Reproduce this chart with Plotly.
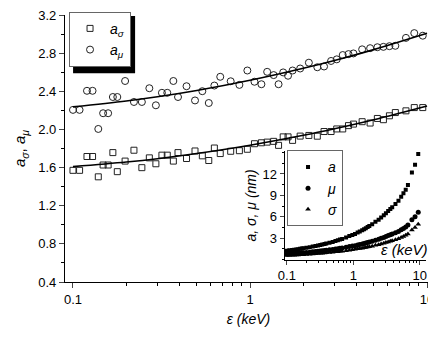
import plotly.graph_objects as go

# photon energy grid (keV), shared by both panels
eps = [0.100, 0.109, 0.120, 0.129, 0.139, 0.148, 0.158, 0.168, 0.178, 0.197,
       0.221, 0.245, 0.270, 0.294, 0.318, 0.341, 0.369, 0.392, 0.438, 0.489,
       0.538, 0.585, 0.629, 0.679, 0.778, 0.871, 0.966, 1.06, 1.16, 1.25,
       1.36, 1.45, 1.54, 1.64, 1.74, 1.92, 2.15, 2.40, 2.62, 2.87,
       3.09, 3.34, 3.60, 3.84, 4.30, 4.77, 5.24, 5.67, 6.13, 6.62,
       7.60, 8.47, 9.46]

a_sigma = [1.571, 1.571, 1.716, 1.716, 1.503, 1.627, 1.627, 1.757, 1.557, 1.668,
           1.782, 1.599, 1.702, 1.640, 1.730, 1.730, 1.668, 1.757, 1.695, 1.774,
           1.723, 1.674, 1.805, 1.747, 1.771, 1.777, 1.792, 1.850, 1.860, 1.867,
           1.875, 1.833, 1.922, 1.922, 1.885, 1.930, 1.937, 1.929, 1.978, 1.978,
           2.005, 2.005, 2.040, 2.056, 2.081, 2.067, 2.115, 2.102, 2.143, 2.177,
           2.195, 2.229, 2.229]

a_mu = [2.205, 2.205, 2.405, 2.405, 2.005, 2.170, 2.170, 2.340, 2.340, 2.508,
        2.288, 2.288, 2.432, 2.253, 2.384, 2.384, 2.508, 2.340, 2.453, 2.304,
        2.401, 2.277, 2.460, 2.552, 2.505, 2.467, 2.618, 2.500, 2.474, 2.604,
        2.570, 2.474, 2.598, 2.563, 2.618, 2.639, 2.700, 2.652, 2.660, 2.718,
        2.735, 2.780, 2.790, 2.797, 2.840, 2.852, 2.862, 2.866, 2.873, 2.877,
        2.960, 3.010, 2.983]

# fitted curves
fit_eps = [0.1, 0.2, 0.3, 0.5, 1, 2, 3, 5, 10]
fit_sigma = [1.610, 1.658, 1.693, 1.747, 1.834, 1.938, 2.007, 2.102, 2.246]
fit_mu = [2.236, 2.298, 2.342, 2.408, 2.515, 2.641, 2.723, 2.837, 3.008]

# inset: a, mu, sigma in nm
a_nm = [1.25, 1.29, 1.34, 1.38, 1.42, 1.46, 1.50, 1.54, 1.58, 1.66,
        1.74, 1.82, 1.90, 1.97, 2.04, 2.10, 2.18, 2.24, 2.36, 2.48,
        2.60, 2.70, 2.80, 2.90, 3.10, 3.30, 3.45, 3.60, 3.80, 3.95,
        4.10, 4.25, 4.40, 4.55, 4.70, 4.95, 5.30, 5.60, 5.90, 6.20,
        6.50, 6.80, 7.10, 7.35, 7.80, 8.25, 8.80, 9.30, 9.80, 10.45,
        12.2, 13.3, 14.8]
mu_nm = [0.78, 0.80, 0.83, 0.85, 0.87, 0.89, 0.92, 0.94, 0.96, 1.00,
         1.04, 1.09, 1.13, 1.16, 1.20, 1.23, 1.27, 1.30, 1.36, 1.42,
         1.48, 1.53, 1.58, 1.63, 1.72, 1.82, 1.89, 1.95, 2.05, 2.12,
         2.18, 2.25, 2.32, 2.39, 2.45, 2.56, 2.72, 2.85, 2.98, 3.10,
         3.23, 3.36, 3.48, 3.58, 3.76, 3.94, 4.17, 4.37, 4.57, 4.84,
         5.58, 6.02, 6.63]
sigma_nm = [0.56, 0.58, 0.60, 0.61, 0.63, 0.64, 0.66, 0.68, 0.69, 0.72,
            0.75, 0.79, 0.82, 0.84, 0.87, 0.89, 0.92, 0.94, 0.99, 1.03,
            1.08, 1.11, 1.15, 1.18, 1.25, 1.32, 1.38, 1.43, 1.50, 1.55,
            1.60, 1.65, 1.70, 1.75, 1.80, 1.88, 2.00, 2.09, 2.19, 2.28,
            2.38, 2.48, 2.57, 2.65, 2.78, 2.92, 3.09, 3.24, 3.40, 3.60,
            4.15, 4.49, 4.94]

FONT = "Arial, Liberation Sans, sans-serif"
minor_log = [0.2, 0.3, 0.4, 0.5, 0.6, 0.7, 0.8, 0.9, 2, 3, 4, 5, 6, 7, 8, 9]

fig = go.Figure()

# main panel
fig.add_trace(go.Scatter(x=eps, y=a_sigma, mode='markers', name='<i>a</i><sub><i>σ</i></sub>',
                         marker=dict(symbol='square-open', size=6, color='#222',
                                     line=dict(width=1))))
fig.add_trace(go.Scatter(x=eps, y=a_mu, mode='markers', name='<i>a</i><sub><i>μ</i></sub>',
                         marker=dict(symbol='circle-open', size=7, color='#222',
                                     line=dict(width=1))))
fig.add_trace(go.Scatter(x=fit_eps, y=fit_sigma, mode='lines', line=dict(color='black', width=1.6, shape='spline'),
                         showlegend=False))
fig.add_trace(go.Scatter(x=fit_eps, y=fit_mu, mode='lines', line=dict(color='black', width=1.6, shape='spline'),
                         showlegend=False))

# inset
fig.add_trace(go.Scatter(x=eps, y=a_nm, mode='markers', name='<i>a</i>', xaxis='x2', yaxis='y2',
                         legend='legend2', marker=dict(symbol='square', size=4, color='black')))
fig.add_trace(go.Scatter(x=eps, y=mu_nm, mode='markers', name='<i>μ</i>', xaxis='x2', yaxis='y2',
                         legend='legend2', marker=dict(symbol='circle', size=5, color='black')))
fig.add_trace(go.Scatter(x=eps, y=sigma_nm, mode='markers', name='<i>σ</i>', xaxis='x2', yaxis='y2',
                         legend='legend2', marker=dict(symbol='triangle-up', size=5, color='black')))

# page body adds an 8px offset, so the figure is sized 8px smaller
fig.update_layout(
    width=428, height=329,
    margin=dict(l=57, r=4, t=5, b=55),
    paper_bgcolor='white', plot_bgcolor='white',
    font=dict(family=FONT, size=13, color='black'),
    xaxis=dict(type='log', range=[-1.045, 1.028], showline=True, linecolor='black', linewidth=1.3,
               ticks='outside', ticklen=5, tickwidth=1.2, showgrid=False, zeroline=False,
               automargin=False,
               tickvals=[0.1, 1, 10], ticktext=['0.1', '1', '10'],
               minor=dict(tickvals=minor_log, ticks='outside', ticklen=3, tickcolor='black'),
               title=dict(text='<i>ε (keV)</i>', standoff=8, font=dict(size=14))),
    yaxis=dict(range=[0.4, 3.2], showline=True, linecolor='black', linewidth=1.3,
               ticks='outside', ticklen=5, tickwidth=1.2, showgrid=False, zeroline=False,
               automargin=False, ticklabeloverflow='allow',
               tickvals=[0.4, 0.8, 1.2, 1.6, 2.0, 2.4, 2.8, 3.2],
               ticktext=['0.4', '0.8', '1.2', '1.6', '2.0', '2.4', '2.8', '3.2'],
               minor=dict(dtick=0.2, ticks='outside', ticklen=3, tickcolor='black'),
               title=dict(text='<i>a</i><sub><i>σ</i></sub>, <i>a</i><sub><i>μ</i></sub>',
                          standoff=8, font=dict(size=15))),
    xaxis2=dict(type='log', domain=[0.599, 0.985], anchor='y2', range=[-1.03, 1.1],
                showline=True, linecolor='black', linewidth=1.3, ticks='outside', ticklen=4,
                showgrid=False, zeroline=False, tickvals=[0.1, 1, 10], ticktext=['0.1', '1', '10'],
                minor=dict(tickvals=minor_log, ticks='outside', ticklen=2, tickcolor='black')),
    yaxis2=dict(domain=[0.084, 0.49], anchor='x2', range=[0, 15.2],
                showline=True, linecolor='black', linewidth=1.3, ticks='outside', ticklen=4,
                showgrid=False, zeroline=False, tickvals=[3, 6, 9, 12],
                minor=dict(dtick=1.5, ticks='outside', ticklen=2, tickcolor='black'),
                title=dict(text='<i>a, σ, μ (nm)</i>', standoff=2, font=dict(size=14))),
    legend=dict(x=0.011, y=1.012, xanchor='left', yanchor='top', bgcolor='white',
                bordercolor='#666', borderwidth=1, font=dict(size=14), itemwidth=30),
    legend2=dict(x=0.605, y=0.493, xanchor='left', yanchor='top', bgcolor='white',
                 bordercolor='#666', borderwidth=1, font=dict(size=14), itemwidth=30),
    showlegend=True,
)

# drop shadow behind the main legend
fig.add_shape(type='rect', xref='paper', yref='paper', x0=0.022, x1=0.191, y0=0.782, y1=0.996,
              fillcolor='black', line=dict(width=0), layer='above')

fig.add_annotation(x=1.025, y=0.0, xref='x2 domain', yref='y2 domain', xanchor='right', yanchor='bottom',
                   text='<i>ε (keV)</i>', showarrow=False, font=dict(size=15))

fig.write_html("out.html")
